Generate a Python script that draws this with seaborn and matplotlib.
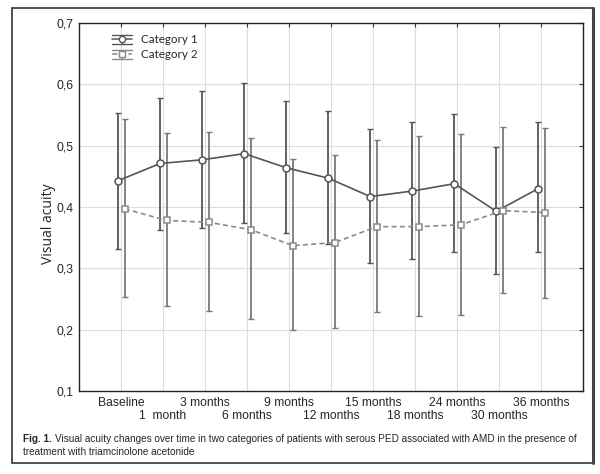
import numpy as np
import pandas as pd
import matplotlib
matplotlib.use("Agg")
import matplotlib.pyplot as plt
import seaborn as sns
from matplotlib.patches import Rectangle
from matplotlib.lines import Line2D
from matplotlib.legend_handler import HandlerBase
from matplotlib.ticker import FuncFormatter

# ---- data ----
timepoints = ["Baseline", "1  month", "3 months", "6 months", "9 months", "12 months",
              "15 months", "18 months", "24 months", "30 months", "36 months"]
cat1_mean = [0.443, 0.471, 0.477, 0.487, 0.464, 0.447, 0.417, 0.426, 0.438, 0.393, 0.430]
cat1_upper = [0.554, 0.578, 0.589, 0.602, 0.573, 0.556, 0.527, 0.538, 0.551, 0.498, 0.538]
cat1_lower = [0.331, 0.362, 0.366, 0.374, 0.358, 0.339, 0.309, 0.315, 0.326, 0.290, 0.326]
cat2_mean = [0.397, 0.378, 0.375, 0.363, 0.337, 0.342, 0.368, 0.368, 0.371, 0.394, 0.391]
cat2_upper = [0.544, 0.520, 0.522, 0.513, 0.478, 0.485, 0.509, 0.515, 0.519, 0.531, 0.529]
cat2_lower = [0.254, 0.238, 0.230, 0.217, 0.199, 0.203, 0.228, 0.223, 0.224, 0.260, 0.252]
series_names = ["Category 1", "Category 2"]

sns.set_style("white")
plt.rcParams['font.family'] = ['Liberation Sans', 'DejaVu Sans']

fig = plt.figure(figsize=(6, 4.74), dpi=100)
ax = fig.add_axes([79/600, 1-391/474, (583-79)/600, (391-23)/474])

idx = np.arange(len(timepoints))
offsets = [-0.065, 0.09]
means = [cat1_mean, cat2_mean]
uppers = [cat1_upper, cat2_upper]
lowers = [cat1_lower, cat2_lower]
line_colors = ["#555555", "#8a8a8a"]
bar_colors = ["#555555", "#7a7a7a"]
markers = ["o", "s"]

rows = []
for name, off, m in zip(series_names, offsets, means):
    for i, v in enumerate(m):
        rows.append({"x": i + off, "y": v, "series": name})
df = pd.DataFrame(rows)

handles = []
for k, name in enumerate(series_names):
    sub = df[df["series"] == name]
    m = np.array(means[k]); up = np.array(uppers[k]); lo = np.array(lowers[k])
    ax.errorbar(sub["x"], m, yerr=[m - lo, up - m], fmt='none',
                ecolor=bar_colors[k], elinewidth=1.3, capsize=2.2, capthick=1.0, zorder=2)
    sns.lineplot(data=sub, x="x", y="y", ax=ax, color=line_colors[k], linewidth=1.2,
                 marker=markers[k], markersize=5, markerfacecolor="white",
                 markeredgecolor=line_colors[k], markeredgewidth=1.1, legend=False, zorder=3)
    ln = ax.lines[-1]
    if k == 1:
        ln.set_linestyle((0, (3, 2)))
    h = Line2D([], [], color=line_colors[k], lw=1.1, linestyle='-' if k == 0 else (0, (2, 1.5)),
               marker=markers[k], markersize=4.5, markerfacecolor='white',
               markeredgecolor=line_colors[k], markeredgewidth=1.0)
    handles.append(h)


class ErrLegendHandler(HandlerBase):
    def create_artists(self, legend, orig_handle, xdescent, ydescent, width, height, fontsize, trans):
        cy = height / 2 - ydescent
        x0, x1 = -xdescent, width - xdescent
        xc = (x0 + x1) / 2
        dy = height * 0.55
        c = orig_handle.get_color()
        arts = []
        for yy in (cy - dy, cy + dy):
            arts.append(Line2D([x0, x1], [yy, yy], color=c, lw=1.0, transform=trans))
        arts.append(Line2D([xc, xc], [cy - dy, cy + dy], color=c, lw=1.0, transform=trans))
        arts.append(Line2D([x0, x1], [cy, cy], color=c, lw=orig_handle.get_linewidth(),
                           linestyle=orig_handle.get_linestyle(), transform=trans))
        arts.append(Line2D([xc], [cy], marker=orig_handle.get_marker(),
                           markersize=orig_handle.get_markersize(), markerfacecolor='white',
                           markeredgecolor=c, markeredgewidth=1.0, linestyle='none', transform=trans))
        return arts


ax.set_xlim(-1, 11)
ax.set_ylim(0.1, 0.7)
ax.set_xticks(idx)
ax.set_xticklabels(timepoints, fontsize=8.7)
ax.set_yticks(np.arange(0.1, 0.71, 0.1))
ax.yaxis.set_major_formatter(FuncFormatter(lambda v, p: f"{v:.1f}".replace(".", ",")))
ax.tick_params(axis='y', labelsize=8.7)
ax.tick_params(direction='in', top=True, right=True, length=3, width=0.8, color="#333333", pad=4)
for i, tk in enumerate(ax.xaxis.get_major_ticks()):
    tk.set_pad(4 if i % 2 == 0 else 14)
ax.grid(True, color="#dddddd", linewidth=0.8)
ax.set_axisbelow(True)
for s in ax.spines.values():
    s.set_color("#222222")
    s.set_linewidth(1.0)
ax.set_xlabel("")
ax.set_ylabel("Visual acuity", fontsize=10, family=["Open Sans", "DejaVu Sans"])
ax.yaxis.set_label_coords(-0.045, 0.454)

leg = ax.legend(handles, series_names, loc='upper left', bbox_to_anchor=(0.045, 0.998),
                frameon=False, handler_map={Line2D: ErrLegendHandler()},
                prop={'family': ['Lato', 'DejaVu Sans'], 'size': 8.4},
                handlelength=1.7, handletextpad=0.75, labelspacing=0.35)

# outer frame
fig.patches.append(Rectangle((12/600, 1-463/474), (593-12)/600, (463-8)/474,
                             transform=fig.transFigure, fill=False, edgecolor="#333333",
                             linewidth=1.2, zorder=0))
fig.lines.append(Line2D([593/600, 593/600], [1-463/474, 1-8/474], transform=fig.transFigure,
                        color="#444444", linewidth=2.2))

# caption
fig.canvas.draw()
r = fig.canvas.get_renderer()
cap_fs = 7.2
t1 = fig.text(23/600, 1-439/474, "Fig. 1.", fontsize=cap_fs, fontweight='bold', va='center', ha='left')
bb = t1.get_window_extent(renderer=r)
fig.text((bb.x1 + 3)/600, 1-439/474,
         "Visual acuity changes over time in two categories of patients with serous PED associated with AMD in the presence of",
         fontsize=cap_fs, va='center', ha='left')
fig.text(23/600, 1-452/474, "treatment with triamcinolone acetonide", fontsize=cap_fs, va='center', ha='left')

fig.savefig("out.png", dpi=100)
